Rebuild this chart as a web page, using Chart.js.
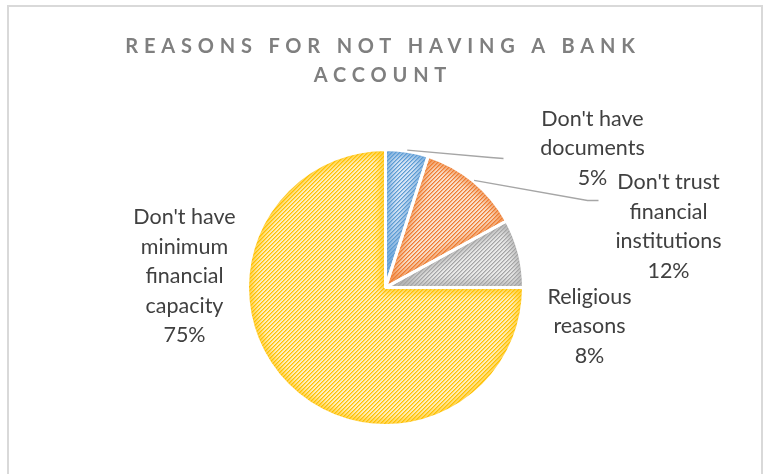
<!DOCTYPE html>
<html>
<head>
<meta charset="utf-8">
<script src="https://cdn.jsdelivr.net/npm/chart.js@4/dist/chart.umd.min.js"></script>
<style>
  html, body { margin: 0; padding: 0; background: #ffffff; }
  #wrap { width: 765px; height: 474px; position: relative; }
</style>
</head>
<body>
<div id="wrap"><canvas id="chart" width="765" height="474"></canvas></div>
<script>
// Survey answers: why respondents have no bank account
const categories = [
  "Don't have documents",
  "Don't trust financial institutions",
  "Religious reasons",
  "Don't have minimum financial capacity"
];
const shares = [5, 12, 8, 75];
// Wrapped label text shown beside each slice
const labelLines = [
  ["Don't have", "documents"],
  ["Don't trust", "financial", "institutions"],
  ["Religious", "reasons"],
  ["Don't have", "minimum", "financial", "capacity"]
];
const titleLines = ["REASONS FOR NOT HAVING A BANK", "ACCOUNT"];

// Office-style palette: light base, dark stripe, edge glow
const palette = [
  { light: '#d8e6f5', dark: '#5b9bd5', glow: 'rgba(91,155,213,0.8)' },
  { light: '#fbe0cd', dark: '#ed7d31', glow: 'rgba(237,125,49,0.8)' },
  { light: '#e9e9e9', dark: '#a5a5a5', glow: 'rgba(165,165,165,0.8)' },
  { light: '#fff0c2', dark: '#ffc000', glow: 'rgba(255,192,0,0.8)' }
];

const canvas = document.getElementById('chart');
const ctx = canvas.getContext('2d');

// Upward diagonal hatch tile
function hatch(light, dark) {
  const t = document.createElement('canvas');
  t.width = 4; t.height = 4;
  const g = t.getContext('2d');
  g.fillStyle = light;
  g.fillRect(0, 0, 4, 4);
  g.fillStyle = dark;
  for (let y = 0; y < 4; y++) {
    for (let x = 0; x < 4; x++) {
      const k = (x + y) % 4;
      if (k === 3) { g.globalAlpha = 1; g.fillRect(x, y, 1, 1); }
      else if (k === 0) { g.globalAlpha = 0.5; g.fillRect(x, y, 1, 1); }
    }
  }
  return ctx.createPattern(t, 'repeat');
}

const FONT = '"Lato", "Open Sans", sans-serif';

// Label block placement, relative to pie centre and radius
const labelPlace = [
  { dx: 207, dy: -139 },
  { dx: 283, dy: -61 },
  { dx: 204, dy: 39 },
  { dx: -201, dy: -11 }
];
// Leader lines (only for the two small top slices)
const leaders = [
  [[105, -130], [118, -129]],
  [[202, -87], [213, -87]],
  null,
  null
];

const decor = {
  id: 'decor',
  beforeDraw(chart) {
    const c = chart.ctx;
    c.save();
    c.fillStyle = '#ffffff';
    c.fillRect(0, 0, chart.width, chart.height);
    c.strokeStyle = '#d9d9d9';
    c.lineWidth = 2;
    c.strokeRect(8, 6, 754, 480);
    // title
    c.fillStyle = '#7f7f7f';
    c.font = 'bold 20px ' + FONT;
    c.textAlign = 'center';
    c.textBaseline = 'middle';
    if ('letterSpacing' in c) c.letterSpacing = '5.8px';
    c.fillText(titleLines[0], 380 + 3, 47);
    c.fillText(titleLines[1], 380 + 3, 76);
    if ('letterSpacing' in c) c.letterSpacing = '0px';
    c.restore();
  },
  afterDatasetsDraw(chart) {
    const c = chart.ctx;
    const arcs = chart.getDatasetMeta(0).data;
    // soft inner edge on every slice
    arcs.forEach((a, i) => {
      const p = a.getProps(['x', 'y', 'startAngle', 'endAngle', 'outerRadius']);
      c.save();
      c.beginPath();
      c.moveTo(p.x, p.y);
      c.arc(p.x, p.y, p.outerRadius, p.startAngle, p.endAngle);
      c.closePath();
      c.clip();
      c.filter = 'blur(4px)';
      c.strokeStyle = palette[i].glow;
      c.lineWidth = 10;
      c.stroke();
      c.restore();
    });
    // white separators over the glow
    arcs.forEach((a) => {
      const p = a.getProps(['x', 'y', 'startAngle', 'endAngle', 'outerRadius']);
      c.save();
      c.beginPath();
      c.moveTo(p.x, p.y);
      c.arc(p.x, p.y, p.outerRadius, p.startAngle, p.endAngle);
      c.closePath();
      c.strokeStyle = '#ffffff';
      c.lineWidth = 3;
      c.lineJoin = 'bevel';
      c.stroke();
      c.restore();
    });
    const p0 = arcs[0].getProps(['x', 'y', 'outerRadius']);
    const cx = p0.x, cy = p0.y, r = p0.outerRadius;
    // leader lines
    arcs.forEach((a, i) => {
      if (!leaders[i]) return;
      const p = a.getProps(['startAngle', 'endAngle']);
      const mid = (p.startAngle + p.endAngle) / 2;
      c.save();
      c.strokeStyle = '#a6a6a6';
      c.lineWidth = 1.3;
      c.beginPath();
      c.moveTo(cx + Math.cos(mid) * (r + 1), cy + Math.sin(mid) * (r + 1));
      leaders[i].forEach(pt => c.lineTo(cx + pt[0], cy + pt[1]));
      c.stroke();
      c.restore();
    });
    // data labels
    c.save();
    c.fillStyle = '#404040';
    c.font = '21.5px ' + FONT;
    c.textAlign = 'center';
    c.textBaseline = 'middle';
    const lh = 29.5;
    labelLines.forEach((lines, i) => {
      const all = lines.concat([shares[i] + '%']);
      const bx = cx + labelPlace[i].dx;
      const by = cy + labelPlace[i].dy;
      const top = by - (all.length - 1) * lh / 2;
      all.forEach((t, k) => c.fillText(t, bx, top + k * lh));
    });
    c.restore();
  }
};

new Chart(canvas, {
  type: 'pie',
  data: {
    labels: categories,
    datasets: [{
      data: shares,
      backgroundColor: palette.map(p => hatch(p.light, p.dark)),
      borderColor: '#ffffff',
      borderWidth: 3,
      hoverOffset: 0
    }]
  },
  options: {
    responsive: false,
    devicePixelRatio: 1,
    animation: false,
    layout: { padding: { top: 148, left: 246, right: 240, bottom: 47 } },
    plugins: {
      legend: { display: false },
      title: { display: false },
      tooltip: { enabled: false }
    },
    events: []
  },
  plugins: [decor]
});
</script>
</body>
</html>
